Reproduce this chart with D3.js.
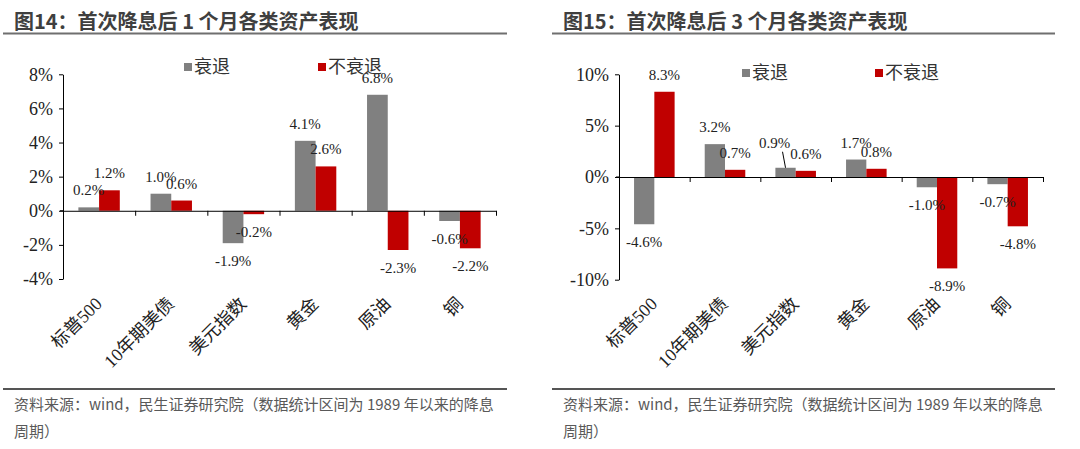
<!DOCTYPE html>
<html>
<head>
<meta charset="utf-8">
<script src="https://cdn.jsdelivr.net/npm/d3@7"></script>
<style>
  html, body { margin: 0; padding: 0; background: #fff; }
  svg { display: block; }
</style>
</head>
<body>
<div id="chart"></div>
<script>
// Chart data
const categories = ["标普500", "10年期美债", "美元指数", "黄金", "原油", "铜"];
const seriesNames = ["衰退", "不衰退"];
const recession1m = [0.2, 1.0, -1.9, 4.1, 6.8, -0.6];
const noRecession1m = [1.2, 0.6, -0.2, 2.6, -2.3, -2.2];
const recession3m = [-4.6, 3.2, 0.9, 1.7, -1.0, -0.7];
const noRecession3m = [8.3, 0.7, 0.6, 0.8, -8.9, -4.8];
const ticks1m = [-4, -2, 0, 2, 4, 6, 8];
const ticks3m = [-10, -5, 0, 5, 10];
const titles = ["图14：首次降息后 1 个月各类资产表现", "图15：首次降息后 3 个月各类资产表现"];
const sourceLines = ["资料来源：wind，民生证券研究院（数据统计区间为 1989 年以来的降息", "周期）"];

const W = 1080, H = 449;
const colors = ["#808080", "#C00000"];
const serif = "'Times New Roman', 'Liberation Serif', 'Noto Sans CJK SC', serif";
const sans = "'Microsoft YaHei', 'Noto Sans CJK SC', sans-serif";

const svg = d3.select("#chart").append("svg")
    .attr("width", W)
    .attr("height", H);

// One panel = title, bars, axes, legend, source
function drawPanel(opt) {
    const g = svg.append("g");

    // title + rule under it
    g.append("text")
        .attr("x", opt.titleX).attr("y", 29)
        .attr("font-family", sans).attr("font-weight", "bold")
        .attr("font-size", 20).attr("fill", "#3f3f3f")
        .text(opt.title);
    g.append("line")
        .attr("x1", opt.ruleX0).attr("x2", opt.ruleX1)
        .attr("y1", 33.5).attr("y2", 33.5)
        .attr("stroke", "#6f6f6f").attr("stroke-width", 2);

    const x = d3.scaleBand()
        .domain(categories)
        .range([opt.left, opt.right])
        .padding(0);
    const bw = x.bandwidth();
    const pad = bw * 0.213;
    const x1 = d3.scaleBand()
        .domain(seriesNames)
        .range([pad, bw - pad]);
    const y = d3.scaleLinear()
        .domain(opt.domain)
        .range([opt.bottom, opt.top]);

    // y axis
    const yAxis = d3.axisLeft(y)
        .tickValues(opt.ticks)
        .tickSize(4)
        .tickSizeOuter(0)
        .tickPadding(6)
        .tickFormat(d => d + "%");
    const ya = g.append("g")
        .attr("transform", `translate(${opt.left},0)`)
        .call(yAxis);
    ya.selectAll("text")
        .attr("font-family", serif).attr("font-size", 18).attr("fill", "#222");
    ya.selectAll("line, path").attr("stroke", "#000");

    // bars
    const series = [opt.a, opt.b];
    series.forEach((vals, si) => {
        g.append("g").selectAll("rect")
            .data(vals)
            .join("rect")
            .attr("x", (d, i) => x(categories[i]) + x1(seriesNames[si]))
            .attr("width", x1.bandwidth())
            .attr("y", d => y(Math.max(0, d)))
            .attr("height", d => Math.abs(y(d) - y(0)))
            .attr("fill", colors[si]);
    });

    // zero line with category boundary ticks
    const xi = d3.scaleLinear().domain([0, categories.length]).range([opt.left, opt.right]);
    const xa = g.append("g")
        .attr("transform", `translate(0,${y(0)})`)
        .call(d3.axisBottom(xi)
            .tickValues(d3.range(1, categories.length + 1))
            .tickSize(5)
            .tickSizeOuter(0)
            .tickFormat(""));
    xa.selectAll("line, path").attr("stroke", "#000");
    g.append("line")
        .attr("x1", opt.left - 3).attr("x2", opt.left)
        .attr("y1", y(0)).attr("y2", y(0))
        .attr("stroke", "#000");

    // value labels
    series.forEach((vals, si) => {
        vals.forEach((d, i) => {
            let cx = x(categories[i]) + x1(seriesNames[si]) + x1.bandwidth() / 2;
            let ty = d >= 0 ? y(d) - 12 : y(d) + 23;
            const nudge = opt.nudge && opt.nudge[si] && opt.nudge[si][i];
            if (nudge) {
                // label moved off the bar, with a leader line back to it
                g.append("line")
                    .attr("x1", cx + nudge[0] + 8).attr("y1", ty + nudge[1] + 4)
                    .attr("x2", cx).attr("y2", y(d))
                    .attr("stroke", "#000").attr("stroke-width", 1);
                cx += nudge[0];
                ty += nudge[1];
            }
            g.append("text")
                .attr("x", cx).attr("y", ty)
                .attr("text-anchor", "middle")
                .attr("font-family", serif).attr("font-size", 15)
                .attr("fill", "#222")
                .text(d.toFixed(1) + "%");
        });
    });

    // rotated category labels
    g.append("g").selectAll("text")
        .data(categories)
        .join("text")
        .attr("transform", d => `translate(${x(d) + bw / 2 + 4},305) rotate(-45)`)
        .attr("text-anchor", "end")
        .attr("font-family", serif).attr("font-size", 18)
        .attr("fill", "#222")
        .text(d => d);

    // legend
    opt.legend.forEach((lx, si) => {
        g.append("rect")
            .attr("x", lx).attr("y", opt.legendY - 10)
            .attr("width", 8).attr("height", 8)
            .attr("fill", colors[si]);
        g.append("text")
            .attr("x", lx + 10).attr("y", opt.legendY)
            .attr("font-family", sans).attr("font-size", 18)
            .attr("fill", "#333")
            .text(seriesNames[si]);
    });

    // source
    g.append("line")
        .attr("x1", opt.ruleX0).attr("x2", opt.ruleX1)
        .attr("y1", 389).attr("y2", 389)
        .attr("stroke", "#555").attr("stroke-width", 2);
    sourceLines.forEach((s, k) => {
        g.append("text")
            .attr("x", opt.titleX).attr("y", 410 + k * 27)
            .attr("font-family", sans).attr("font-size", 15)
            .attr("fill", "#595959")
            .text(s);
    });
}

drawPanel({
    title: titles[0], titleX: 14, ruleX0: 3, ruleX1: 507,
    left: 63, right: 496, top: 74.3, bottom: 279,
    domain: [-4, 8], ticks: ticks1m,
    a: recession1m, b: noRecession1m,
    legend: [184, 318], legendY: 73
});

drawPanel({
    title: titles[1], titleX: 563, ruleX0: 552, ruleX1: 1055,
    left: 619, right: 1043, top: 74.3, bottom: 279.7,
    domain: [-10, 10], ticks: ticks3m,
    a: recession3m, b: noRecession3m,
    legend: [742, 875], legendY: 79,
    nudge: [[null, null, [-11, -8], null, null, null]]
});
</script>
</body>
</html>
